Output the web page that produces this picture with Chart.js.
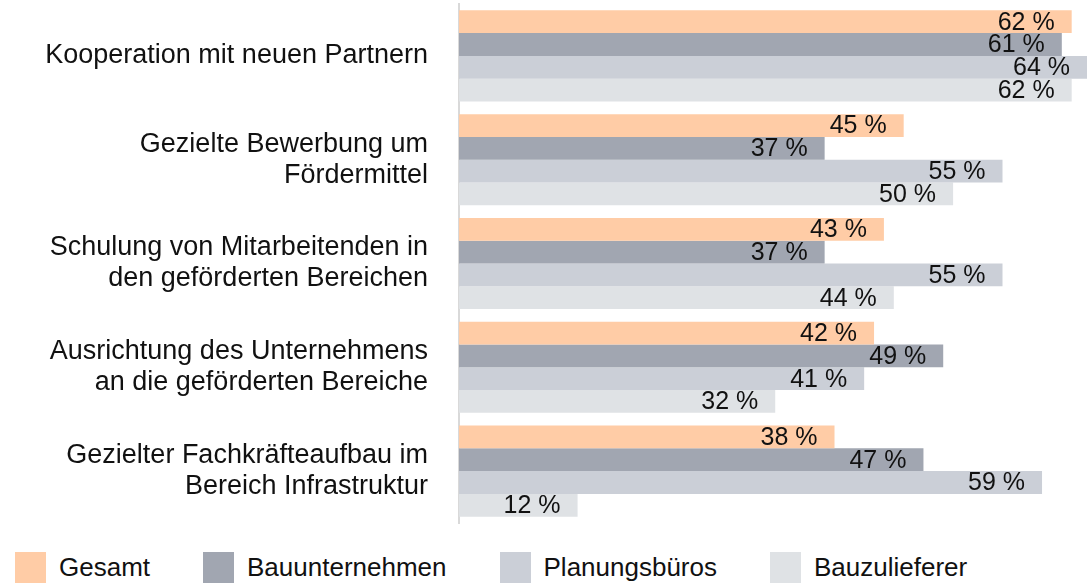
<!DOCTYPE html>
<html>
<head>
<meta charset="utf-8">
<script src="https://cdn.jsdelivr.net/npm/chart.js@4.4.1/dist/chart.umd.min.js"></script>
<style>
  html, body { margin: 0; padding: 0; background: #fff; }
  #page { position: relative; width: 1087px; height: 583px; overflow: hidden; }
  #wrap { position: absolute; left: 0; top: 0; width: 1087px; height: 527px; }
  #legend { position: absolute; left: 15px; top: 552px; display: flex; align-items: center;
            font-family: 'Liberation Sans', Arial, sans-serif; font-size: 26px; color: #111; }
  #legend .item { display: flex; align-items: center; margin-right: 53px; }
  #legend .box { width: 31px; height: 31px; margin-right: 13px; }
</style>
</head>
<body>
<div id="page">
  <div id="wrap"><canvas id="chart"></canvas></div>
  <div id="legend"></div>
</div>
<script>
const categories = [
    ['Kooperation mit neuen Partnern'],
    ['Gezielte Bewerbung um', 'Fördermittel'],
    ['Schulung von Mitarbeitenden in', 'den geförderten Bereichen'],
    ['Ausrichtung des Unternehmens', 'an die geförderten Bereiche'],
    ['Gezielter Fachkräfteaufbau im', 'Bereich Infrastruktur']
];
const seriesNames = ['Gesamt', 'Bauunternehmen', 'Planungsbüros', 'Bauzulieferer'];
const gesamt = [62, 45, 43, 42, 38];
const bauunternehmen = [61, 37, 37, 49, 47];
const planungsbueros = [64, 55, 55, 41, 59];
const bauzulieferer = [62, 50, 44, 32, 12];
const colors = ['#FFCCA6', '#A1A6B1', '#CBCFD7', '#DFE2E5'];

const font = "'Liberation Sans', Arial, sans-serif";

// value labels at the right end of each bar (clipped bars use the chart edge)
const valueLabels = {
    id: 'valueLabels',
    afterDatasetsDraw(chart) {
        const ctx = chart.ctx;
        const area = chart.chartArea;
        ctx.save();
        ctx.font = '25px ' + font;
        ctx.fillStyle = '#111';
        ctx.textAlign = 'right';
        ctx.textBaseline = 'middle';
        chart.data.datasets.forEach((ds, i) => {
            chart.getDatasetMeta(i).data.forEach((bar, j) => {
                const right = Math.min(bar.x, area.right);
                ctx.fillText(ds.data[j] + ' %', right - 17, bar.y + 1);
            });
        });
        ctx.restore();
    }
};

const allSeries = [gesamt, bauunternehmen, planungsbueros, bauzulieferer];

const chart = new Chart(document.getElementById('chart'), {
    type: 'bar',
    data: {
        labels: categories,
        datasets: allSeries.map((vals, i) => ({
            label: seriesNames[i],
            data: vals,
            backgroundColor: colors[i],
            categoryPercentage: 0.878,
            barPercentage: 1.0
        }))
    },
    options: {
        indexAxis: 'y',
        responsive: true,
        maintainAspectRatio: false,
        animation: false,
        layout: { padding: { top: 4, right: 0, left: 0, bottom: 4 } },
        scales: {
            x: {
                display: false,
                min: 0,
                max: 63.55
            },
            y: {
                grid: { display: false, drawTicks: false },
                border: { display: true, color: '#d9d9d9', width: 2 },
                ticks: {
                    color: '#111',
                    font: { family: font, size: 27, lineHeight: 1.15 },
                    padding: 31
                },
                afterFit(scale) {
                    scale.width = 459;
                    scale.paddingTop = 0;
                    scale.paddingBottom = 0;
                }
            }
        },
        plugins: {
            legend: { display: false },
            tooltip: { enabled: false }
        }
    },
    plugins: [valueLabels]
});

// html legend built from the datasets
const legendEl = document.getElementById('legend');
chart.data.datasets.forEach(ds => {
    const item = document.createElement('div');
    item.className = 'item';
    const box = document.createElement('span');
    box.className = 'box';
    box.style.background = ds.backgroundColor;
    const txt = document.createElement('span');
    txt.textContent = ds.label;
    item.appendChild(box);
    item.appendChild(txt);
    legendEl.appendChild(item);
});
</script>
</body>
</html>
